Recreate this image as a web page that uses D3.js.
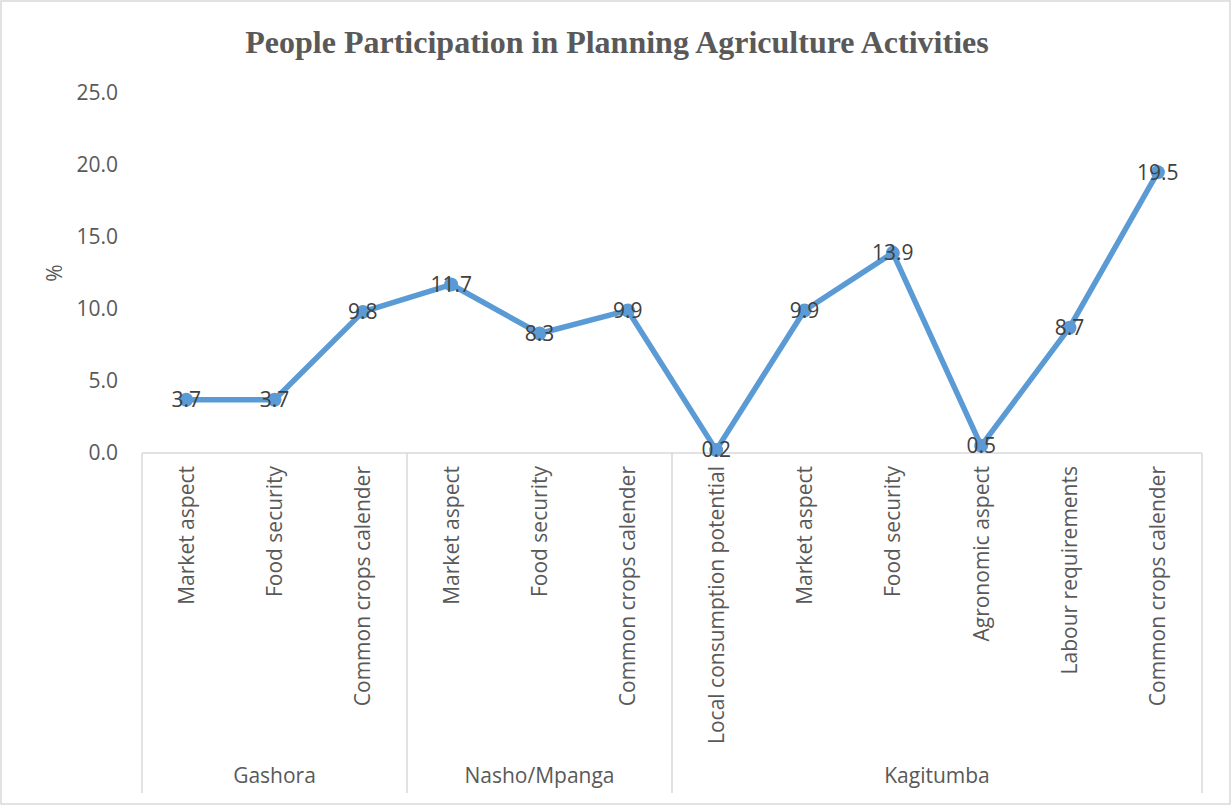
<!DOCTYPE html>
<html>
<head>
<meta charset="utf-8">
<script src="https://cdn.jsdelivr.net/npm/d3@7"></script>
<style>
  body { margin: 0; background: #fff; }
  text { font-family: "Open Sans", "Liberation Sans", sans-serif; }
</style>
</head>
<body>
<div id="chart"></div>
<script>
const ancho = 1231
const alto = 805
const margen = { izquierdo: 142, derecho: 29, superior: 93, inferior: 352 }
const tamTexto = "21px"

// datos
const grupos = ["Gashora", "Nasho/Mpanga", "Kagitumba"]
const categorias = [
  ["Gashora", "Market aspect"],
  ["Gashora", "Food security"],
  ["Gashora", "Common crops calender"],
  ["Nasho/Mpanga", "Market aspect"],
  ["Nasho/Mpanga", "Food security"],
  ["Nasho/Mpanga", "Common crops calender"],
  ["Kagitumba", "Local consumption potential"],
  ["Kagitumba", "Market aspect"],
  ["Kagitumba", "Food security"],
  ["Kagitumba", "Agronomic aspect"],
  ["Kagitumba", "Labour requirements"],
  ["Kagitumba", "Common crops calender"]
]
const valores = [3.7, 3.7, 9.8, 11.7, 8.3, 9.9, 0.2, 9.9, 13.9, 0.5, 8.7, 19.5]
const ticksY = [0, 5, 10, 15, 20, 25]

const datos = categorias.map((c, i) => ({ grupo: c[0], cat: c[1], id: i, valor: valores[i] }))

const svg = d3.select("#chart").append("svg").attr("width", ancho).attr("height", alto)

svg.append("rect").attr("x", 1).attr("y", 1).attr("width", ancho - 2).attr("height", alto - 2)
  .attr("fill", "#fff").attr("stroke", "#d9d9d9").attr("stroke-width", 1.5)

const anchoPlot = ancho - margen.izquierdo - margen.derecho
const altoPlot = alto - margen.superior - margen.inferior

const x = d3.scaleBand().domain(datos.map(d => d.id)).range([0, anchoPlot]).padding(0)
const y = d3.scaleLinear().domain([0, 25]).range([altoPlot, 0])

const g = svg.append("g").attr("transform", `translate(${margen.izquierdo}, ${margen.superior})`)

// titulo
svg.append("text").attr("x", 617).attr("y", 53).attr("text-anchor", "middle")
  .style("font-family", "'Liberation Serif', 'Times New Roman', serif")
  .style("font-weight", "bold").style("font-size", "32px").attr("fill", "#595959")
  .text("People Participation in Planning Agriculture Activities")

// eje Y
const ejeY = d3.axisLeft(y).tickValues(ticksY).tickFormat(d3.format(".1f")).tickSize(0).tickPadding(24)
const grupoY = g.append("g").call(ejeY)
grupoY.select(".domain").remove()
grupoY.selectAll("text").style("font-size", tamTexto).attr("fill", "#595959")

svg.append("text").attr("transform", "translate(62, 273) rotate(-90)").attr("text-anchor", "middle")
  .style("font-size", tamTexto).attr("fill", "#595959").text("%")

// eje X
g.append("line").attr("x1", 0).attr("x2", anchoPlot).attr("y1", altoPlot).attr("y2", altoPlot)
  .attr("stroke", "#d9d9d9").attr("stroke-width", 1.5)

const fondoEje = alto - 12
// separadores de grupo
const limites = []
grupos.forEach(gr => {
  const ids = datos.filter(d => d.grupo === gr).map(d => d.id)
  const x0 = x(ids[0])
  const x1 = x(ids[ids.length - 1]) + x.bandwidth()
  limites.push({ grupo: gr, x0: x0, x1: x1 })
})
const posLineas = [0].concat(limites.map(l => l.x1))
g.selectAll(".sep").data(posLineas).enter().append("line")
  .attr("x1", d => d).attr("x2", d => d)
  .attr("y1", altoPlot).attr("y2", fondoEje - margen.superior)
  .attr("stroke", "#d9d9d9").attr("stroke-width", 1.5)

g.selectAll(".etqCat").data(datos).enter().append("text")
  .attr("transform", d => `translate(${x(d.id) + x.bandwidth() / 2}, ${altoPlot + 13}) rotate(-90)`)
  .attr("text-anchor", "end").attr("dy", "0.35em")
  .style("font-size", tamTexto).attr("fill", "#595959")
  .text(d => d.cat)

g.selectAll(".etqGrupo").data(limites).enter().append("text")
  .attr("x", d => (d.x0 + d.x1) / 2).attr("y", 783 - margen.superior)
  .attr("text-anchor", "middle")
  .style("font-size", tamTexto).attr("fill", "#595959")
  .text(d => d.grupo)

// linea
const linea = d3.line().x(d => x(d.id) + x.bandwidth() / 2).y(d => y(d.valor))
g.append("path").datum(datos).attr("d", linea)
  .attr("fill", "none").attr("stroke", "#5b9bd5").attr("stroke-width", 5.5).attr("stroke-linejoin", "round")

g.selectAll(".punto").data(datos).enter().append("circle")
  .attr("cx", d => x(d.id) + x.bandwidth() / 2).attr("cy", d => y(d.valor)).attr("r", 7)
  .attr("fill", "#5b9bd5")

g.selectAll(".valor").data(datos).enter().append("text")
  .attr("x", d => x(d.id) + x.bandwidth() / 2).attr("y", d => y(d.valor))
  .attr("dy", "0.35em").attr("text-anchor", "middle")
  .style("font-size", tamTexto).attr("fill", "#404040")
  .text(d => d3.format(".1f")(d.valor))
</script>
</body>
</html>
